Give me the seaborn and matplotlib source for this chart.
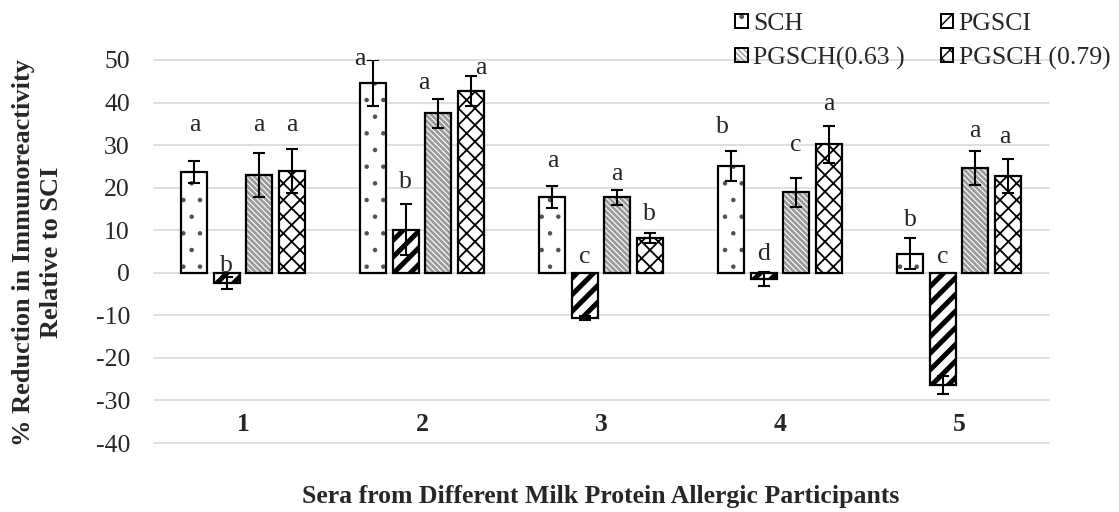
import numpy as np
import pandas as pd
import matplotlib
matplotlib.use("Agg")
import matplotlib.pyplot as plt
from matplotlib.patches import Rectangle
import seaborn as sns

# ---- data -------------------------------------------------------------
categories = ["1", "2", "3", "4", "5"]
series = ["SCH", "PGSCI", "PGSCH(0.63 )", "PGSCH (0.79)"]

sch = [23.7, 44.7, 17.9, 25.1, 4.5]
sch_err = [2.5, 5.4, 2.6, 3.5, 3.6]
pgsci = [-2.4, 10.1, -10.6, -1.5, -26.4]
pgsci_err = [1.3, 6.0, 0.5, 1.6, 2.1]
pgsch_063 = [23.0, 37.5, 17.7, 18.9, 24.6]
pgsch_063_err = [5.1, 3.4, 1.8, 3.4, 4.0]
pgsch_079 = [23.9, 42.7, 8.1, 30.2, 22.8]
pgsch_079_err = [5.1, 3.5, 1.2, 4.4, 4.0]

# significance letters per series
sch_letters = ["a", "a", "a", "b", "b"]
pgsci_letters = ["b", "b", "c", "d", "c"]
pgsch_063_letters = ["a", "a", "a", "c", "a"]
pgsch_079_letters = ["a", "a", "b", "a", "a"]

values = [sch, pgsci, pgsch_063, pgsch_079]
errors = [sch_err, pgsci_err, pgsch_063_err, pgsch_079_err]
letters = [sch_letters, pgsci_letters, pgsch_063_letters, pgsch_079_letters]

# ---- letter placement (baseline in data units, horizontal nudge in px) --
letter_base = [
    [33.2, 48.8, 24.8, 32.9, 11.1],
    [0.3, 19.9, 2.4, 3.1, 2.3],
    [33.2, 43.3, 21.8, 28.5, 32.0],
    [33.2, 46.7, 12.4, 38.3, 30.6],
]
letter_nudge = [
    [0, -14, 0, -9, 0],
    [0, 0, 0, 0, 0],
    [0, -14, 0, 0, 0],
    [0, 10, 0, 0, -3],
]

# ---- bar styles ---------------------------------------------------------
hatch_styles = [
    dict(hatch=".", color="#505050", lw=0.8),
    dict(hatch="//", color="black", lw=3.6),
    dict(hatch="\\" * 6, color="#9a9a9a", lw=2.0),
    dict(hatch="xx", color="black", lw=1.3),
]

df = pd.DataFrame({
    "group": np.tile(categories, len(series)),
    "series": np.repeat(series, len(categories)),
    "value": np.concatenate(values),
})

sns.set_theme(style="white")
plt.rcParams["font.family"] = ["Liberation Serif", "DejaVu Serif"]
plt.rcParams["axes.unicode_minus"] = False
FS = 18.5

W, H = 1119, 512
fig = plt.figure(figsize=(W / 100, H / 100), dpi=100)
ax = fig.add_axes([153.5 / W, 1 - 443 / H, 895 / W, 383 / H])

sns.barplot(
    data=df, x="group", y="value", hue="series",
    order=categories, hue_order=series,
    palette={s: "white" for s in series},
    width=0.724, gap=0.2, linewidth=0, errorbar=None,
    legend=False, ax=ax, zorder=2,
)

bar_containers = list(ax.containers)
legend_handles = []
for k, container in enumerate(bar_containers):
    st = hatch_styles[k]
    xs = []
    for bar in container:
        x0, y0 = bar.get_x(), bar.get_y()
        w, h = bar.get_width(), bar.get_height()
        with plt.rc_context({"hatch.linewidth": st["lw"]}):
            hp = Rectangle((x0, y0), w, h, fill=False, linewidth=0,
                           edgecolor=st["color"], hatch=st["hatch"], zorder=2.1)
        if hasattr(hp, "set_hatch_linewidth"):
            hp.set_hatch_linewidth(st["lw"])
        ax.add_patch(hp)
        ax.add_patch(Rectangle((x0, y0), w, h, fill=False, linewidth=1.6,
                               edgecolor="black", zorder=2.2))
        xs.append(x0 + w / 2)
    ax.errorbar(xs, values[k], yerr=errors[k], fmt="none", ecolor="black",
                elinewidth=1.5, capsize=4.5, capthick=1.5, zorder=3)
    for i, xc in enumerate(xs):
        ax.text(xc + letter_nudge[k][i] / 179.0, letter_base[k][i], letters[k][i],
                ha="center", va="baseline", fontsize=FS, zorder=4)
    with plt.rc_context({"hatch.linewidth": st["lw"] * 0.6}):
        h1 = Rectangle((0, 0), 1, 1, fill=False, linewidth=0,
                       edgecolor=st["color"], hatch=st["hatch"])
    if hasattr(h1, "set_hatch_linewidth"):
        h1.set_hatch_linewidth(st["lw"] * 0.6)
    h2 = Rectangle((0, 0), 1, 1, fill=False, linewidth=1.4, edgecolor="black")
    legend_handles.append((h1, h2))

# ---- axes styling -------------------------------------------------------
ax.set_xlim(-0.5, 4.5)
ax.set_ylim(-40, 50)
ax.set_yticks(range(-40, 51, 10))
ax.yaxis.grid(True, color="#d9d9d9", linewidth=1.2)
ax.set_axisbelow(True)
for line in ax.get_ygridlines():
    line.set_clip_on(False)
for s in ax.spines.values():
    s.set_visible(False)
ax.tick_params(axis="y", length=0, pad=17, labelsize=FS)
ax.set_xticks(range(len(categories)))
ax.set_xticklabels([])
ax.tick_params(axis="x", length=0)
ax.set_xlabel("")
ax.set_ylabel("")

for i, c in enumerate(categories):
    ax.text(i, -35.7, c, ha="center", va="center", fontsize=FS, fontweight="bold")

fig.text(601 / W, 1 - 496 / H, "Sera from Different Milk Protein Allergic Participants",
         ha="center", va="center", fontsize=FS, fontweight="bold")
fig.text(24 / W, 1 - 252 / H, "% Reduction in Immunoreactivity",
         ha="center", va="center", rotation=90, fontsize=19, fontweight="bold")
fig.text(52 / W, 1 - 252 / H, "Relative to SCI",
         ha="center", va="center", rotation=90, fontsize=19, fontweight="bold")

order = [0, 2, 1, 3]
fig.legend([legend_handles[i] for i in order], [series[i] for i in order],
           ncol=2, loc="upper left", bbox_to_anchor=(735 / W, 1 - 13 / H),
           frameon=False, fontsize=FS, handlelength=0.5, handleheight=0.5,
           handletextpad=0.2, columnspacing=1.4, labelspacing=0.45,
           borderpad=0, borderaxespad=0)

fig.savefig("out.png", dpi=100)
